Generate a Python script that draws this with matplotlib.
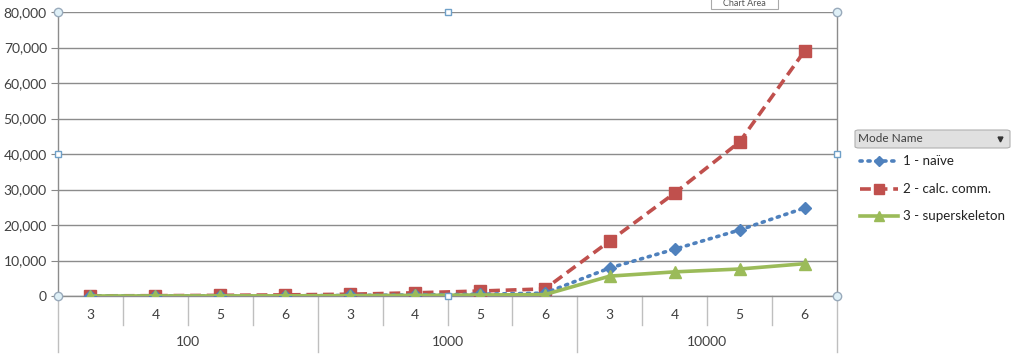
import matplotlib
matplotlib.use("Agg")
import matplotlib.pyplot as plt
from matplotlib.patches import FancyBboxPatch
from matplotlib.lines import Line2D
from matplotlib.ticker import FuncFormatter
from matplotlib.transforms import blended_transform_factory

plt.rcParams['font.family'] = ['Lato', 'DejaVu Sans']

groups = ["100", "1000", "10000"]
sub_labels = ["3", "4", "5", "6"]
series_names = ["1 - naïve", "2 - calc. comm.", "3 - superskeleton"]
naive = [10, 20, 40, 70, 150, 300, 500, 800, 7900, 13200, 18600, 24800]
calc_comm = [40, 90, 180, 320, 500, 900, 1400, 2000, 15500, 29000, 43400, 69000]
superskeleton = [10, 20, 30, 50, 100, 180, 280, 400, 5600, 6800, 7600, 9100]
y_ticks = [0, 10000, 20000, 30000, 40000, 50000, 60000, 70000, 80000]

colors = ["#4F81BD", "#C0504D", "#9BBB59"]
styles = [dict(ls=(0, (0.6, 1.6)), marker='D', ms=6.5, dash_capstyle='round'),
          dict(ls=(0, (3, 1.6)), marker='s', ms=8.5),
          dict(ls='-', marker='^', ms=9)]
values = [naive, calc_comm, superskeleton]

W, H = 1013, 356
fig = plt.figure(figsize=(W / 100, H / 100), dpi=100)
x0, x1, ytop, ybot = 58, 837, 12, 296
ax = fig.add_axes([x0 / W, (H - ybot) / H, (x1 - x0) / W, (ybot - ytop) / H])


def fy(py):
    return (H - py) / H


n = len(groups) * len(sub_labels)
xs = [i + 0.5 for i in range(n)]
ax.set_xlim(0, n)
ax.set_ylim(y_ticks[0], y_ticks[-1])

zorders = [4, 3, 5]
for vals, c, st, name, z in zip(values, colors, styles, series_names, zorders):
    ax.plot(xs, vals, color=c, lw=2.6, label=name, zorder=z, **st)

ax.set_yticks(y_ticks)
ax.yaxis.set_major_formatter(FuncFormatter(lambda v, p: f"{int(v):,}"))
ax.tick_params(axis='y', length=5, color='#888888', labelsize=10, labelcolor='#404040', pad=3)
ax.set_xticks([])
ax.grid(axis='y', color='#8c8c8c', lw=1)
ax.set_axisbelow(True)
ax.spines['top'].set_visible(False)
for s in ['left', 'right', 'bottom']:
    ax.spines[s].set_color('#8c8c8c')
    ax.spines[s].set_linewidth(1)

# two-level category axis
bt = blended_transform_factory(ax.transData, fig.transFigure)
for i in range(n + 1):
    bottom = 352 if i % 4 == 0 else 325
    ax.add_line(Line2D([i, i], [fy(296), fy(bottom)], transform=bt, color='#bfbfbf', lw=1, clip_on=False))
for i in range(n):
    ax.text(i + 0.5, fy(315), sub_labels[i % 4], transform=bt, ha='center', va='center',
            fontsize=10, color='#404040')
for g, name in enumerate(groups):
    ax.text(g * 4 + 2, fy(342), name, transform=bt, ha='center', va='center',
            fontsize=10, color='#404040')

# selection handles
hx = [x0, (x0 + x1) / 2, x1]
hy = [ytop, (ytop + ybot) / 2, ybot]
for i, px in enumerate(hx):
    for j, py in enumerate(hy):
        if i == 1 and j == 1:
            continue
        if i != 1 and j != 1:
            fig.add_artist(Line2D([px / W], [fy(py)], marker='o', ms=6, mfc='#dff0f7', mec='#9ab', mew=1))
        else:
            fig.add_artist(Line2D([px / W], [fy(py)], marker='s', ms=5, mfc='#ffffff', mec='#6fa0c8', mew=1))

# legend (drawn manually)
fig.add_artist(FancyBboxPatch((855 / W, fy(148)), 155 / W, 18 / H,
                              boxstyle="round,pad=0,rounding_size=0.004",
                              transform=fig.transFigure, fc='#e0e0e0', ec='#b0b0b0', lw=0.8))
fig.text(858 / W, fy(139), "Mode Name", fontsize=8.5, color='#404040', va='center')
fig.add_artist(Line2D([1000 / W], [fy(139)], marker='v', ms=3.5, color='#333333'))
entry_y = [161, 189, 216]
for vals, c, st, name, py in zip(values, colors, styles, series_names, entry_y):
    line_kw = {k: v for k, v in st.items() if k not in ('marker', 'ms')}
    fig.add_artist(Line2D([860 / W, 898 / W], [fy(py), fy(py)], color=c, lw=2.6, **line_kw))
    fig.add_artist(Line2D([879 / W], [fy(py)], color=c, marker=st['marker'], ms=st['ms'] * 0.85, ls='none'))
    fig.text(903 / W, fy(py), name, fontsize=9.6, color='#222222', va='center')

# "Chart Area" tooltip
fig.add_artist(FancyBboxPatch((711 / W, fy(9)), 67 / W, 14 / H, boxstyle="square,pad=0",
                              transform=fig.transFigure, fc='#ffffff', ec='#aaaaaa', lw=0.8))
fig.text(744 / W, fy(3.5), "Chart Area", fontsize=6.5, color='#555555', ha='center', va='center')

fig.savefig("out.png", dpi=100)
